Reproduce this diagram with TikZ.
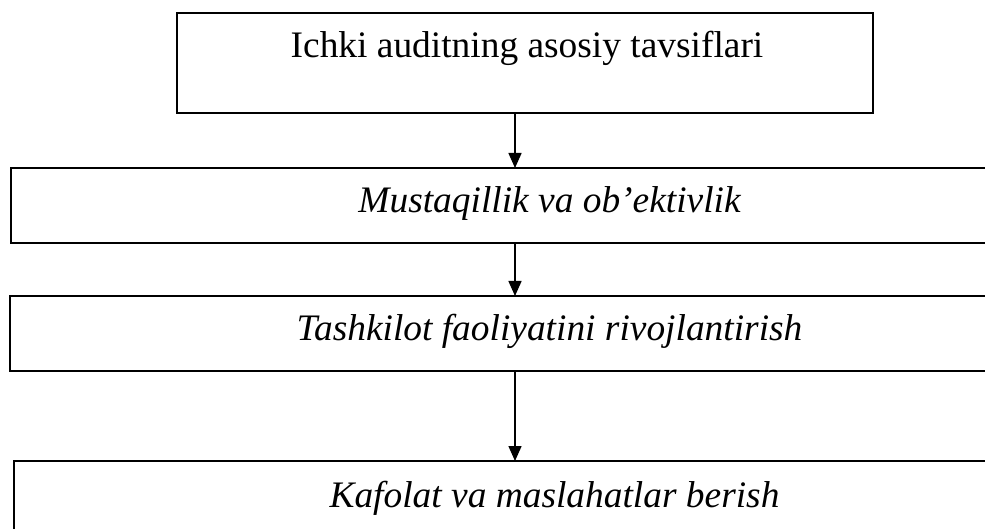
\documentclass[tikz,border=0pt]{standalone}
\usepackage{fontspec}
\setmainfont{Liberation Serif}
\usetikzlibrary{arrows.meta}
\tikzset{
  blok/.style={draw,line width=1pt,outer sep=0pt,inner sep=0pt,anchor=north west},
  yozuv/.style={anchor=base,inner sep=0pt,font=\fontsize{18.7}{22}\selectfont},
  kursiv/.style={yozuv,font=\fontsize{18.7}{22}\selectfont\itshape},
  strelka/.style={line width=0.75pt,-{Triangle[length=7.5pt,width=6.5pt]}}
}
\begin{document}
\begin{tikzpicture}[x=0.5pt,y=-0.5pt]
        \useasboundingbox (0,0) rectangle (985,529);
        \clip (0,0) rectangle (985,529);
        %% Blocks
        \node[blok,minimum width=348pt,minimum height=50pt] (asos) at (177,13) {};
        \node[blok,minimum width=494.5pt,minimum height=37.5pt] (must) at (11,168) {};
        \node[blok,minimum width=495pt,minimum height=37.5pt] (tash) at (10,296) {};
        \node[blok,minimum width=493pt,minimum height=42pt] (kaf) at (14,461) {};
        %% Texts
        \node[yozuv] (asosT) at (527,58) {Ichki auditning asosiy tavsiflari};
        \node[kursiv] (mustT) at (549.5,213) {Mustaqillik va ob’ektivlik};
        \node[kursiv] (tashT) at (549.5,340) {Tashkilot faoliyatini rivojlantirish};
        \node[kursiv] (kafT) at (554.5,507) {Kafolat va maslahatlar berish};
        %% Arrows
        \coordinate (o) at (515,0);
        \draw[strelka] (asos.south -| o) -- (must.north -| o);
        \draw[strelka] (must.south -| o) -- (tash.north -| o);
        \draw[strelka] (tash.south -| o) -- (kaf.north -| o);
    \end{tikzpicture}
\end{document}
